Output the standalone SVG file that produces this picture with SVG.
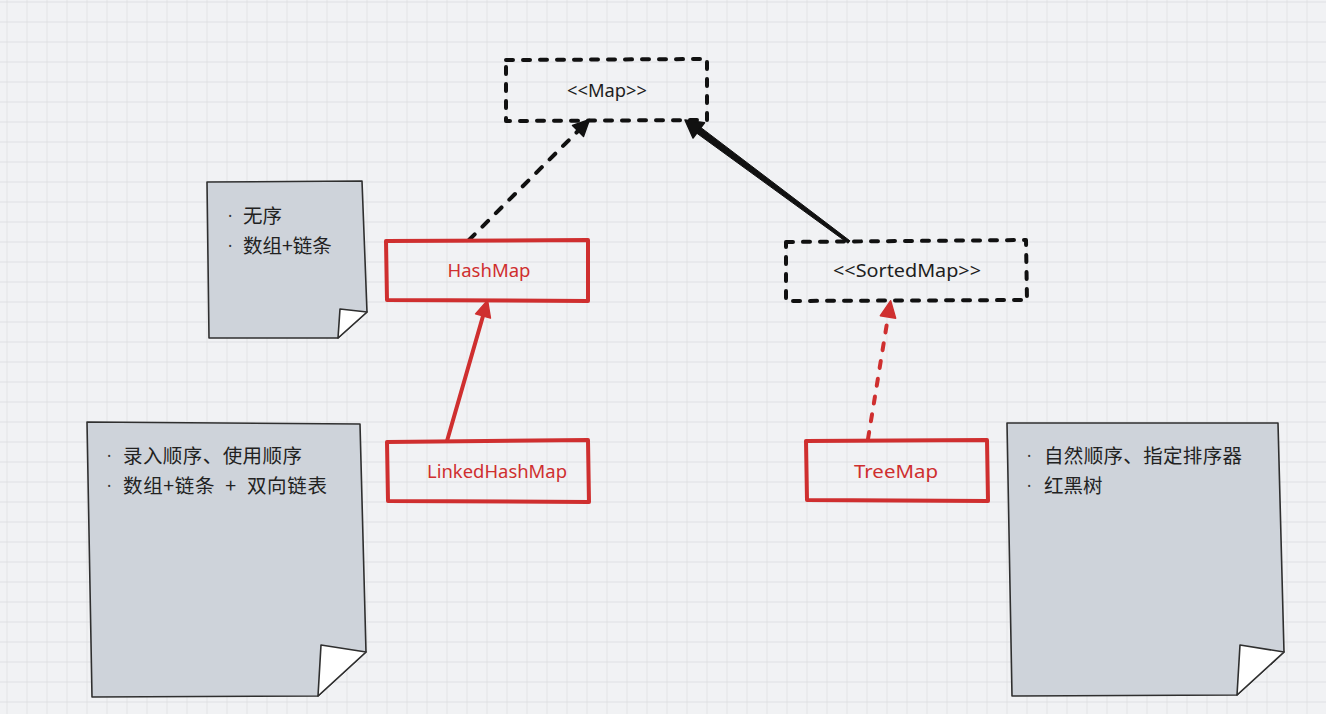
<svg xmlns="http://www.w3.org/2000/svg" width="1326" height="714" viewBox="0 0 1326 714">
  <defs>
    <pattern id="grid" x="6.5" y="1.5" width="20" height="20" patternUnits="userSpaceOnUse">
      <path d="M0,0 H20 M0,0 V20" fill="none" stroke="#dadbde" stroke-width="1.3"/>
    </pattern>
    <marker id="headBlack" markerUnits="userSpaceOnUse" markerWidth="22" markerHeight="22" refX="0" refY="0" viewBox="-2 -11 24 22" orient="auto" overflow="visible">
      <path d="M18,0 L0,-8.5 L0,8.5 Z" fill="#111" stroke="#111" stroke-width="1.5" stroke-linejoin="round"/>
    </marker>
    <marker id="headRed" markerUnits="userSpaceOnUse" markerWidth="22" markerHeight="22" refX="0" refY="0" viewBox="-2 -11 24 22" orient="auto" overflow="visible">
      <path d="M18,0 L0,-8.5 L0,8.5 Z" fill="#cf2f2f" stroke="#cf2f2f" stroke-width="1.5" stroke-linejoin="round"/>
    </marker>
  </defs>
  <style>
    .iface { fill: none; stroke: #111; stroke-width: 4; stroke-dasharray: 7 10; stroke-linecap: round; stroke-linejoin: round; }
    .cls { fill: none; stroke: #cf2f2f; stroke-width: 4; stroke-linecap: round; stroke-linejoin: round; }
    .lbl { font-family: "Noto Sans", "Liberation Sans", sans-serif; font-size: 18px; text-anchor: middle; }
    .lbl-k { fill: #1e1e1e; }
    .lbl-r { fill: #cf2f2f; }
    .note { fill: #ced3da; stroke: #2f2f2f; stroke-width: 1.6; stroke-linejoin: round; }
    .fold { fill: #ffffff; stroke: #2f2f2f; stroke-width: 1.6; stroke-linejoin: round; }
    .ntext { font-family: "Noto Sans CJK SC", "Noto Sans", sans-serif; font-size: 19.5px; fill: #222; }
    .dot { font-family: "Noto Sans", sans-serif; font-size: 16px; fill: #333; }
    .dash-k { fill: none; stroke: #111; stroke-width: 4; stroke-dasharray: 8 11; stroke-linecap: round; }
    .dash-r { fill: none; stroke: #cf2f2f; stroke-width: 4; stroke-dasharray: 7 11; stroke-linecap: round; }
    .solid-r { fill: none; stroke: #cf2f2f; stroke-width: 4; stroke-linecap: round; }
  </style>

  <!-- canvas -->
  <rect x="0" y="0" width="1326" height="714" fill="#f1f2f4"/>
  <rect x="0" y="0" width="1326" height="714" fill="url(#grid)"/>

  <!-- relations -->
  <g id="connectors">
    <!-- HashMap implements Map -->
    <path class="dash-k" d="M469,240 L578,131" marker-end="url(#headBlack)"/>
    <!-- SortedMap extends Map -->
    <polygon points="849.9,240.8 848.1,243.2 696.5,133.0 700.7,127.4" fill="#111" stroke="#111" stroke-width="1" stroke-linejoin="round"/>
    <polygon points="685,120 704.5,122.8 693.0,138.0" fill="#111" stroke="#111" stroke-width="1.5" stroke-linejoin="round"/>
    <!-- LinkedHashMap extends HashMap -->
    <path class="solid-r" d="M447,441 L483,316" marker-end="url(#headRed)"/>
    <!-- TreeMap implements SortedMap -->
    <path class="dash-r" d="M868,439 L888,317" marker-end="url(#headRed)"/>
  </g>

  <!-- interfaces -->
  <g id="map">
    <path class="iface" d="M506,60 L707,59 L707,120 L506,121 Z"/>
    <text class="lbl lbl-k" x="607" y="97" textLength="80" lengthAdjust="spacingAndGlyphs">&lt;&lt;Map&gt;&gt;</text>
  </g>
  <g id="sortedmap">
    <path class="iface" d="M786,242 L1026,240 L1027,300 L786,301 Z"/>
    <text class="lbl lbl-k" x="907" y="277" textLength="148" lengthAdjust="spacingAndGlyphs">&lt;&lt;SortedMap&gt;&gt;</text>
  </g>

  <!-- classes -->
  <g id="hashmap">
    <path class="cls" d="M386,241 L588,240 L588,301 L387,300 Z"/>
    <text class="lbl lbl-r" x="489" y="277" textLength="83" lengthAdjust="spacingAndGlyphs">HashMap</text>
  </g>
  <g id="linkedhashmap">
    <path class="cls" d="M387,442 L588,440 L589,502 L388,501 Z"/>
    <text class="lbl lbl-r" x="497" y="478" textLength="140" lengthAdjust="spacingAndGlyphs">LinkedHashMap</text>
  </g>
  <g id="treemap">
    <path class="cls" d="M806,441 L987,440 L988,501 L807,500 Z"/>
    <text class="lbl lbl-r" x="896" y="478" textLength="84" lengthAdjust="spacingAndGlyphs">TreeMap</text>
  </g>

  <!-- notes -->
  <g id="note-hashmap">
    <path class="note" d="M207,182 L362,181 L367,312 L338,338 L209,338 Z"/>
    <path class="fold" d="M340,309 L367,312 L338,338 Z"/>
    <text class="dot" x="228" y="222">·</text>
    <text class="ntext" x="243" y="223">无序</text>
    <text class="dot" x="228" y="252">·</text>
    <text class="ntext" x="243" y="253">数组+链条</text>
  </g>
  <g id="note-linkedhashmap">
    <path class="note" d="M87,422 L360,424 L366,652 L318,696 L92,697 Z"/>
    <path class="fold" d="M321,645 L366,652 L318,696 Z"/>
    <text class="dot" x="107" y="462">·</text>
    <text class="ntext" x="123" y="463" textLength="179" lengthAdjust="spacing">录入顺序、使用顺序</text>
    <text class="dot" x="107" y="492">·</text>
    <text class="ntext" x="123" y="493" xml:space="preserve" textLength="204" lengthAdjust="spacing">数组+链条  +  双向链表</text>
  </g>
  <g id="note-treemap">
    <path class="note" d="M1007,423 L1278,423 L1284,652 L1237,695 L1012,696 Z"/>
    <path class="fold" d="M1240,645 L1284,652 L1237,695 Z"/>
    <text class="dot" x="1027" y="462">·</text>
    <text class="ntext" x="1044" y="463" textLength="198" lengthAdjust="spacing">自然顺序、指定排序器</text>
    <text class="dot" x="1027" y="492">·</text>
    <text class="ntext" x="1044" y="493">红黑树</text>
  </g>
</svg>
